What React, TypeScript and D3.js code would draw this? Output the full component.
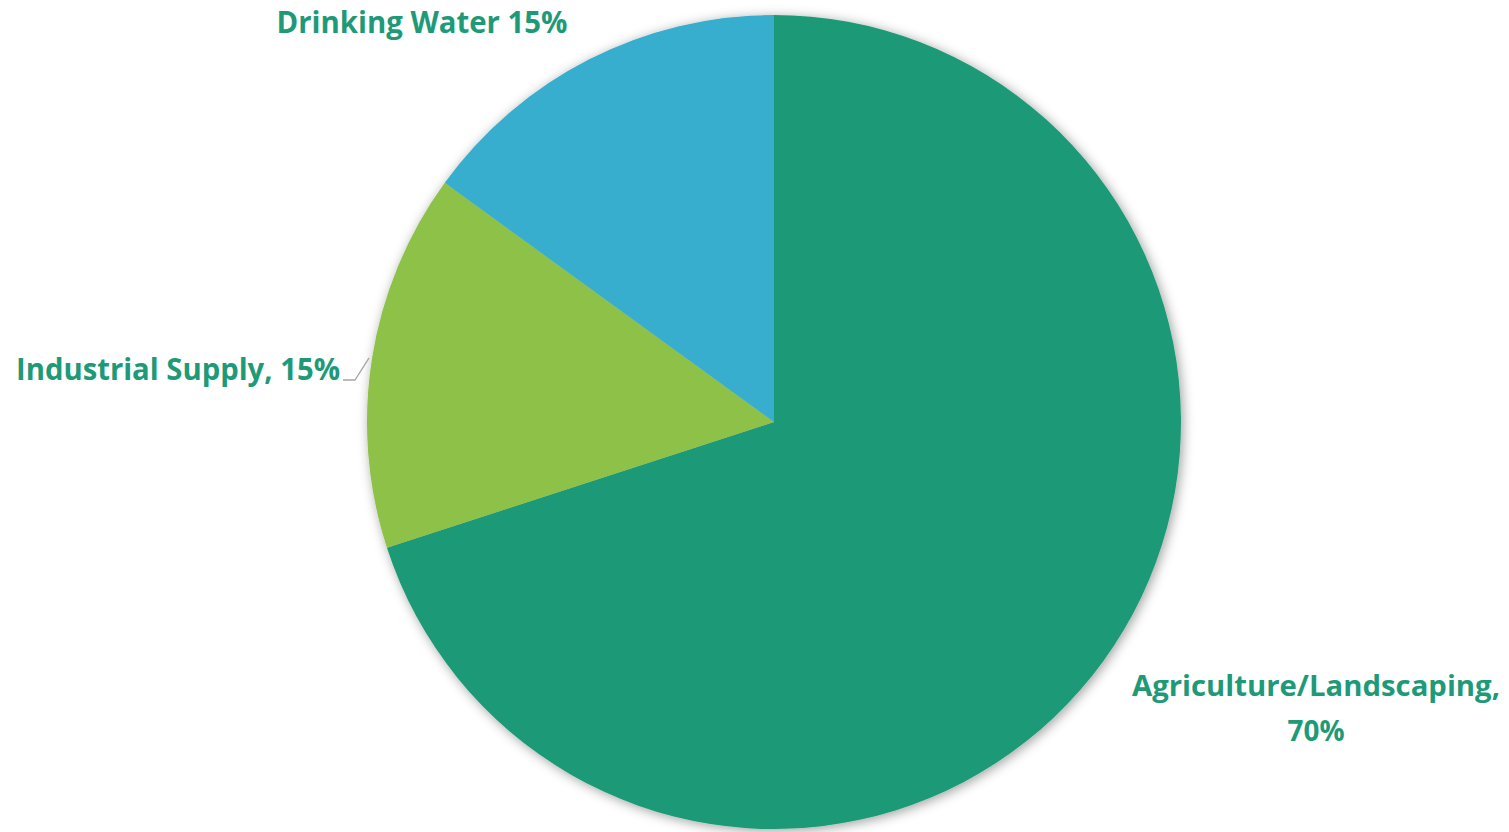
import React from "react";
import * as d3 from "d3";

const categories = ["Agriculture/Landscaping", "Industrial Supply", "Drinking Water"];
const values = [70, 15, 15];
const colors = ["#1E9A78", "#8DC147", "#37AECE"];
const labelLines = [
  ["Agriculture/Landscaping,", "70%"],
  ["Industrial Supply, 15%"],
  ["Drinking Water 15%"],
];

const W = 1509;
const H = 832;
const cx = 774;
const cy = 422;
const R = 407;
const textColor = "#1E9A78";
const fontFamily = "'Open Sans', Lato, sans-serif";

// label layout (anchor, x, baselines, target widths, font sizes)
const labelLayout = [
  { x: 1316, ys: [696, 741], widths: [368, 57], size: 29 },
  { x: 178, ys: [380], widths: [324], size: 30 },
  { x: 422, ys: [33], widths: [291], size: 30 },
];

export default function App() {
  const pie = d3.pie<number>().sort(null).value((d) => d);
  const arcs = pie(values);
  const arc = d3.arc<d3.PieArcDatum<number>>().innerRadius(0).outerRadius(R);

  // leader line for Industrial Supply
  const ind = arcs[1];
  const mid = (ind.startAngle + ind.endAngle) / 2;
  const edge: [number, number] = [cx + Math.sin(mid) * (R + 3), cy - Math.cos(mid) * (R + 3)];
  const leader = d3.line()([
    [343, 380],
    [355, 380],
    edge,
  ]);

  return (
    <svg
      width={W}
      height={H}
      style={{ position: "absolute", left: 0, top: 0, background: "#fff" }}
    >
      <defs>
        <filter id="shadow" x="-10%" y="-10%" width="120%" height="120%">
          <feDropShadow dx="2" dy="2" stdDeviation="6" floodColor="#000" floodOpacity="0.38" />
        </filter>
      </defs>
      <g transform={`translate(${cx},${cy})`} filter="url(#shadow)">
        {arcs.map((a, i) => (
          <path key={categories[i]} d={arc(a) || ""} fill={colors[i]} />
        ))}
      </g>
      <path d={leader || ""} fill="none" stroke="#A6A6A6" strokeWidth={1.3} />
      {labelLines.map((lines, i) =>
        lines.map((t, j) => (
          <text
            key={`${i}-${j}`}
            x={labelLayout[i].x}
            y={labelLayout[i].ys[j]}
            textAnchor="middle"
            fill={textColor}
            fontFamily={fontFamily}
            fontWeight="bold"
            fontSize={labelLayout[i].size}
            textLength={labelLayout[i].widths[j]}
            lengthAdjust="spacingAndGlyphs"
          >
            {t}
          </text>
        ))
      )}
    </svg>
  );
}
